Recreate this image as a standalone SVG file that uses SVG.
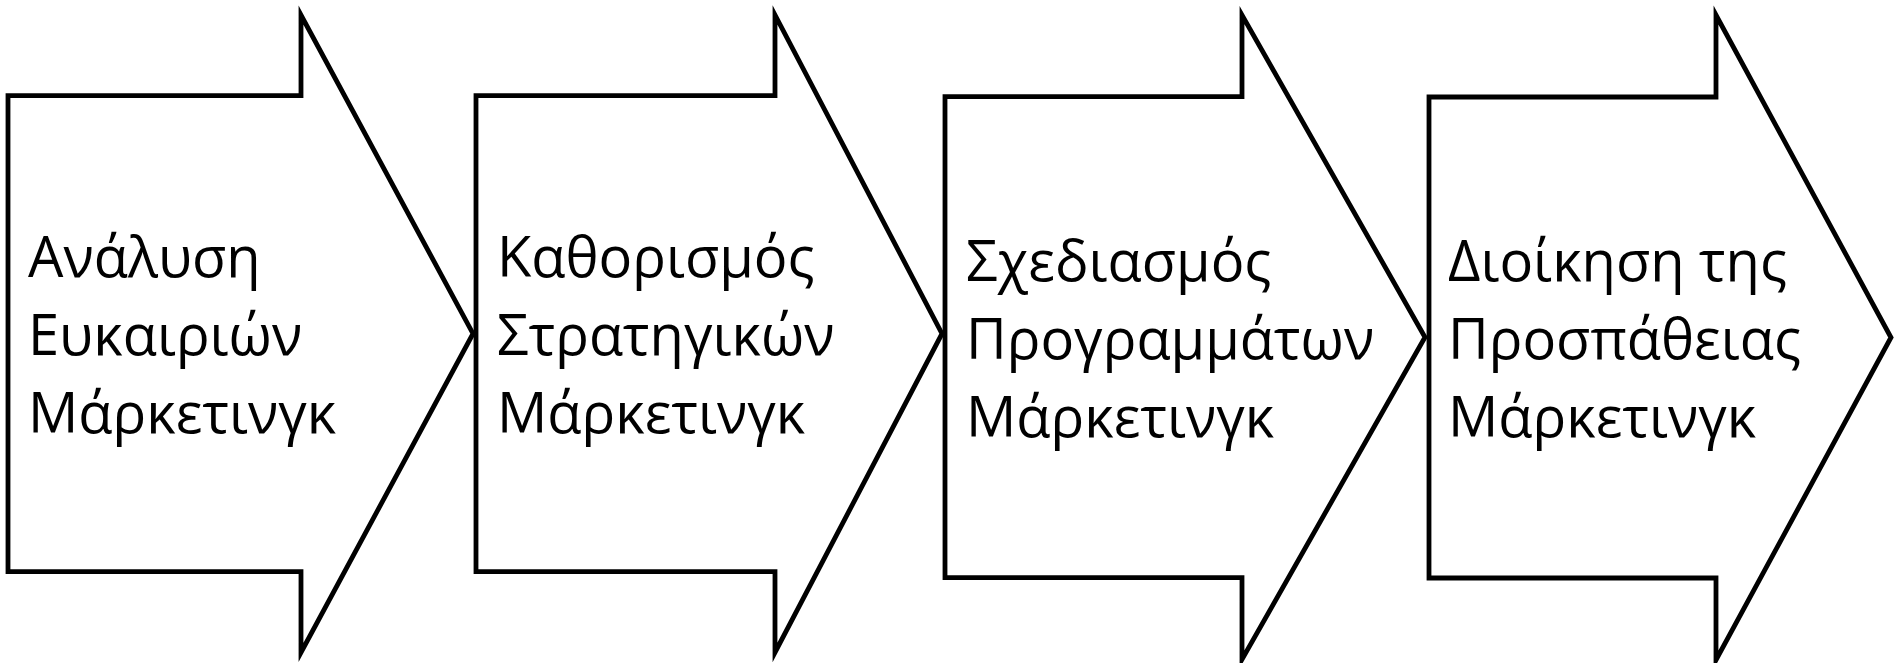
<svg xmlns="http://www.w3.org/2000/svg" width="1895" height="663" viewBox="0 0 1895 663">
<style>
.arrow{fill:#ffffff;stroke:#000000;stroke-width:4.8;stroke-linejoin:miter;stroke-miterlimit:10}
.lbl{font-family:"Open Sans","Noto Sans","DejaVu Sans",sans-serif;font-size:56px;fill:#000000}
</style>
<rect x="0" y="0" width="1895" height="663" fill="#ffffff"/>
<g id="step1">
<polygon class="arrow" points="8,95.7 301,95.7 301,15 473,333.7 301,652.4 301,571.7 8,571.7"/>
<text class="lbl" x="28"><tspan x="28" y="277">Ανάλυση</tspan><tspan x="28" y="355">Ευκαιριών</tspan><tspan x="28" y="433">Μάρκετινγκ</tspan></text>
</g>
<g id="step2">
<polygon class="arrow" points="476,95.7 775,95.7 775,15 942,333.7 775,652.4 775,571.7 476,571.7"/>
<text class="lbl" x="497"><tspan x="497" y="277">Καθορισμός</tspan><tspan x="497" y="355">Στρατηγικών</tspan><tspan x="497" y="433">Μάρκετινγκ</tspan></text>
</g>
<g id="step3">
<polygon class="arrow" points="945,96.7 1242,96.7 1242,15 1425,337.2 1242,659.4 1242,577.7 945,577.7"/>
<text class="lbl" x="966"><tspan x="966" y="280.5">Σχεδιασμός</tspan><tspan x="966" y="358.5">Προγραμμάτων</tspan><tspan x="966" y="436.5">Μάρκετινγκ</tspan></text>
</g>
<g id="step4">
<polygon class="arrow" points="1429,97 1716,97 1716,15 1891,337.5 1716,660 1716,578 1429,578"/>
<text class="lbl" x="1448"><tspan x="1448" y="280.5">Διοίκηση της</tspan><tspan x="1448" y="358.5">Προσπάθειας</tspan><tspan x="1448" y="436.5">Μάρκετινγκ</tspan></text>
</g>
<g id="connectors"/>
</svg>
